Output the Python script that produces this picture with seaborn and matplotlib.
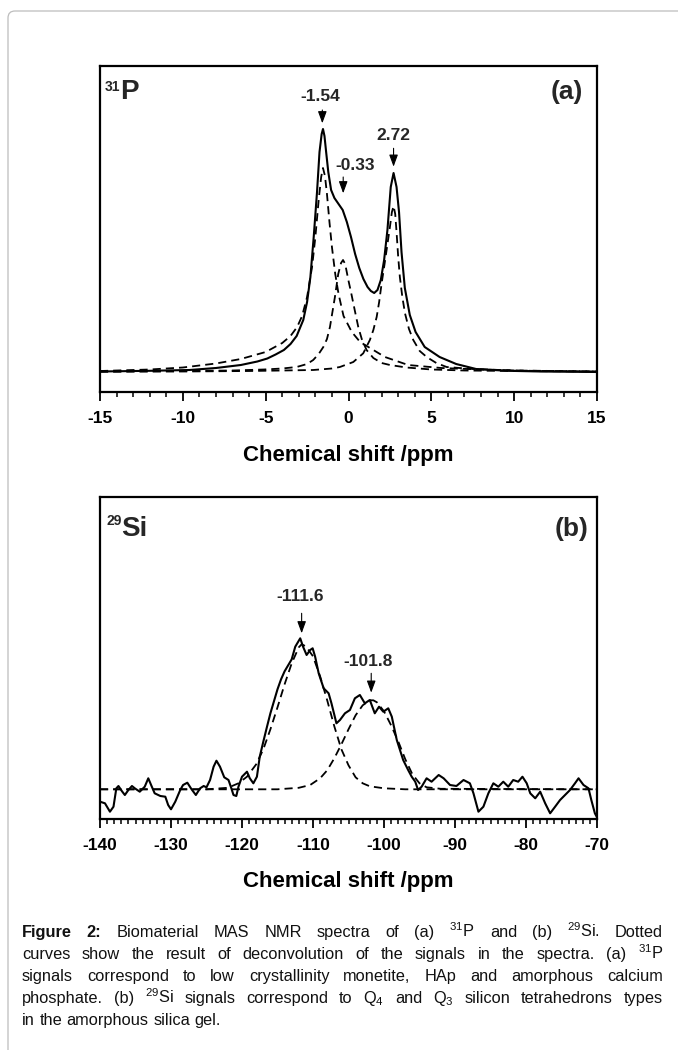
import matplotlib
matplotlib.use("Agg")
import matplotlib.pyplot as plt
import seaborn as sns
import pandas as pd
from matplotlib import font_manager
from matplotlib.patches import FancyBboxPatch
from matplotlib.transforms import IdentityTransform
from matplotlib.ticker import MultipleLocator

# ---------------- data ----------------
# (a) 31P spectrum: (ppm, intensity in arbitrary units)
p_total = [(-15, 0.5), (-12, 1.2), (-9.6, 2), (-8, 4), (-6.5, 7), (-5.5, 10.5), (-4.9, 13.5),
           (-4.4, 17.5), (-3.9, 22), (-3.5, 28), (-3.13, 36), (-2.73, 52), (-2.5, 70), (-2.3, 95),
           (-2.1, 135), (-1.9, 180), (-1.75, 220), (-1.62, 238), (-1.54, 243), (-1.45, 236),
           (-1.35, 220), (-1.22, 200), (-1.05, 182), (-0.85, 174), (-0.6, 168), (-0.35, 162),
           (-0.1, 150), (0.15, 135), (0.4, 118), (0.65, 104), (0.9, 93), (1.15, 85), (1.35, 81),
           (1.55, 79), (1.75, 82), (1.95, 92), (2.15, 112), (2.35, 142), (2.55, 185), (2.72, 199),
           (2.9, 185), (3.05, 160), (3.2, 120), (3.4, 84), (3.7, 57), (4.05, 40), (4.6, 25),
           (5.5, 15), (6.5, 8), (7.7, 3), (9.6, 1.2), (11.6, 0.5), (15, 0)]
p_comp_154 = [(-15, 1), (-12, 2.5), (-10, 4.5), (-8, 8.5), (-6.5, 13), (-5, 20), (-4, 29), (-3.5, 36),
              (-3.1, 45), (-2.8, 56), (-2.5, 75), (-2.2, 105), (-2.0, 135), (-1.8, 172), (-1.65, 195),
              (-1.54, 204), (-1.42, 196), (-1.3, 178), (-1.15, 150), (-1.0, 125), (-0.8, 98),
              (-0.6, 78), (-0.3, 56), (0.2, 40), (0.7, 30), (1.2, 25), (2.2, 15), (3.6, 7), (5.6, 4),
              (8, 2.5), (11, 1.2), (15, 0.5)]
p_comp_033 = [(-15, 0.5), (-10, 1), (-7, 1.5), (-5.1, 2.5), (-4, 3.5), (-3.13, 5), (-2.5, 8), (-2.13, 12),
              (-1.8, 18), (-1.52, 25), (-1.3, 33), (-1.12, 45), (-0.95, 62), (-0.82, 75), (-0.62, 98),
              (-0.45, 109), (-0.33, 112), (-0.2, 108), (-0.01, 92), (0.15, 80), (0.29, 68.7), (0.45, 56),
              (0.59, 45), (0.8, 33), (1.09, 22), (1.5, 14), (2, 9), (2.5, 7), (3.5, 4.5), (5, 2.5),
              (7, 1.5), (10, 1), (15, 0.5)]
p_comp_272 = [(-15, 0.3), (-10, 0.5), (-6, 1), (-4, 1.5), (-2.13, 2), (-1, 3.5), (-0.52, 5), (0.29, 10),
              (0.89, 18.7), (1.29, 32), (1.5, 42), (1.7, 55), (1.85, 70), (2.0, 88.7), (2.15, 105),
              (2.3, 122), (2.5, 145), (2.62, 160), (2.72, 166), (2.82, 158), (2.9, 140), (3.0, 115),
              (3.1, 95), (3.25, 75), (3.41, 58.7), (3.65, 43), (3.91, 32), (4.3, 21), (4.72, 15),
              (5.3, 9), (5.92, 5), (7.5, 3), (10, 1.5), (15, 0.5)]
p_peak_labels = ["-1.54", "-0.33", "2.72"]
p_peak_pos = [-1.58, -0.32, 2.72]

# (b) 29Si spectrum
si_total = [(-140.0, -12.4), (-139.3, -14), (-138.6, -22.4), (-138.1, -17.4), (-137.7, 1), (-137.4, 3.3),
            (-136.9, -2), (-136.5, -5.7), (-136.0, -0.7), (-135.5, 3.3), (-135.1, 1), (-134.4, -2.4),
            (-133.7, 2.6), (-133.2, 11), (-132.7, 2.6), (-132.3, -4), (-131.5, -6.7), (-130.8, -7.4),
            (-130.4, -15.7), (-130.0, -20), (-129.4, -12.4), (-128.7, -0.7), (-128.3, 4.3),
            (-127.7, 6.6), (-127.1, 0), (-126.5, -5.7), (-125.9, 1), (-125.4, 3.3), (-125.0, 2),
            (-124.5, 9.3), (-124.0, 22.6), (-123.6, 28.6), (-123.1, 22.6), (-122.5, 12), (-121.9, 9.3),
            (-121.5, 1), (-121.2, -5.7), (-120.8, -6.7), (-120.5, 2.6), (-120.0, 12.6), (-119.3, 17.6),
            (-118.9, 11), (-118.4, 6), (-117.9, 12.6), (-117.5, 32.6), (-117.0, 47.6), (-116.5, 62),
            (-116.0, 76), (-115.5, 88), (-115.0, 100), (-114.5, 110), (-114.0, 118), (-113.5, 124),
            (-113.0, 130), (-112.5, 142.6), (-111.8, 151), (-111.4, 142.6), (-110.9, 134.3),
            (-110.4, 139.3), (-110.05, 141), (-109.7, 132.6), (-109.2, 116), (-108.5, 101),
            (-107.8, 96), (-107.4, 86), (-106.7, 66), (-106.2, 69.3), (-105.5, 76), (-104.8, 79.3),
            (-104.1, 91), (-103.4, 94.3), (-102.7, 86), (-102.0, 89.3), (-101.3, 76), (-100.7, 82.6),
            (-100.1, 77.6), (-99.4, 81), (-98.9, 72.6), (-98.2, 49.3), (-97.3, 29.3), (-96.6, 19.3),
            (-96.1, 12.6), (-95.6, 7.6), (-95.2, -0.7), (-94.7, 2.6), (-94.0, 11), (-93.3, 7.6),
            (-92.3, 14.3), (-91.6, 11), (-90.7, 4.3), (-89.8, 3.3), (-88.8, 9.3), (-87.9, 6),
            (-87.4, -4), (-86.7, -22.4), (-86.0, -17.4), (-85.3, -4), (-84.6, 6), (-83.9, 2.6),
            (-83.2, 7.6), (-82.5, 2.6), (-81.8, 9.3), (-81.1, 7.6), (-80.5, 12.6), (-79.9, 6),
            (-79.4, -4), (-78.7, -9), (-78.0, -2.4), (-77.3, -14), (-76.6, -24), (-75.9, -17.4),
            (-75.2, -10.7), (-74.5, -5.7), (-73.8, -0.7), (-73.1, 6), (-72.6, 11), (-71.9, 4.3),
            (-71.2, 1), (-70.8, -10.7), (-70.3, -24), (-70.0, -28)]
si_comp_1116 = [(-140, 0), (-125, 0), (-122, 1.5), (-120.5, 6), (-119.3, 12.6), (-118, 25), (-117, 40),
                (-116, 60), (-115, 82), (-114, 105), (-113, 126), (-112, 142), (-111.6, 145), (-111, 143),
                (-110, 133), (-109, 113), (-108, 89), (-107, 63), (-106, 40), (-105, 24), (-104, 12),
                (-103, 6), (-102, 3), (-100, 1), (-97, 0), (-70, 0)]
si_comp_1018 = [(-140, 0), (-115, 0), (-112, 1.5), (-110.4, 4.3), (-109, 11), (-108, 19), (-107, 31),
                (-106, 45), (-105, 60), (-104, 74), (-103, 84), (-102, 89), (-101.5, 89), (-101, 87),
                (-100, 78), (-99, 64), (-98, 48), (-97, 30), (-96, 15), (-95, 6), (-94, 2), (-92, 0.5),
                (-70, 0)]
si_peak_labels = ["-111.6", "-101.8"]
si_peak_pos = [-111.6, -101.8]

caption_lines = [
    "Figure 2: Biomaterial MAS NMR spectra of (a) $^{31}$P and (b) $^{29}$Si. Dotted",
    "curves show the result of deconvolution of the signals in the spectra. (a) $^{31}$P",
    "signals correspond to low crystallinity monetite, HAp and amorphous calcium",
    "phosphate. (b) $^{29}$Si signals correspond to Q$_4$ and Q$_3$ silicon tetrahedrons types",
    "in the amorphous silica gel.",
]
bold_words = {"Figure", "2:"}

# ---------------- style ----------------
def has_font(name):
    try:
        font_manager.findfont(font_manager.FontProperties(family=name), fallback_to_default=False)
        return True
    except Exception:
        return False

sns.set_theme(style="ticks")
MAIN = "Liberation Sans"
NARROW = has_font("Liberation Sans Narrow")
CAP = "Liberation Sans Narrow" if NARROW else "Liberation Sans"
plt.rcParams["font.family"] = [MAIN, "DejaVu Sans"]
plt.rcParams["font.weight"] = "bold"
plt.rcParams["axes.unicode_minus"] = False
plt.rcParams["mathtext.fontset"] = "custom"
plt.rcParams["mathtext.rm"] = CAP
plt.rcParams["mathtext.it"] = CAP
plt.rcParams["mathtext.bf"] = CAP + ":bold"
plt.rcParams["mathtext.default"] = "regular"

W, H = 678, 1050
fig = plt.figure(figsize=(W / 100, H / 100), dpi=100)
fig.patch.set_facecolor("white")

# outer rounded frame (page decoration)
frame = FancyBboxPatch((8, -60), 800, H - 11 + 60, boxstyle="round,pad=0,rounding_size=7",
                       transform=IdentityTransform(), fill=False, ec="#bdbdbd", lw=0.9)
fig.add_artist(frame)

axA = fig.add_axes([100 / W, 1 - 392 / H, 497 / W, 326 / H])
axB = fig.add_axes([100 / W, 1 - 819 / H, 497 / W, 322 / H])

DASH = (0, (4.5, 2.8))


def draw(ax, pts, dashed):
    df = pd.DataFrame(pts, columns=["ppm", "intensity"])
    sns.lineplot(data=df, x="ppm", y="intensity", ax=ax, color="black",
                 lw=1.3 if dashed else 1.5, linestyle=DASH if dashed else "-",
                 sort=False, estimator=None)


for comp in (p_comp_154, p_comp_033, p_comp_272):
    draw(axA, comp, True)
draw(axA, p_total, False)

for comp in (si_comp_1116, si_comp_1018):
    draw(axB, comp, True)
draw(axB, si_total, False)

axA.set_xlim(-15, 15)
axA.set_ylim(-20, 306)
axB.set_xlim(-140, -70)
axB.set_ylim(-29.7, 292.3)

for ax, major in ((axA, 5), (axB, 10)):
    ax.xaxis.set_major_locator(MultipleLocator(major))
    ax.xaxis.set_minor_locator(MultipleLocator(1))
    ax.set_yticks([])
    ax.set_ylabel("")
    ax.set_xlabel("Chemical shift /ppm", fontsize=16, fontweight="bold", labelpad=13.5, color="black")
    ax.tick_params(axis="x", which="major", direction="out", length=6.5, width=1.3,
                   labelsize=12.5, pad=7, colors="black")
    ax.tick_params(axis="x", which="minor", direction="out", length=3.6, width=1.1, colors="black")
    for s in ax.spines.values():
        s.set_visible(True)
        s.set_linewidth(1.6)
        s.set_color("black")
    ax.set_facecolor("white")
    for lbl in ax.get_xticklabels():
        lbl.set_fontweight("bold")

# panel labels
axA.text(0.041, 0.923, "31", transform=axA.transAxes, fontsize=10, fontweight="bold", ha="right", va="baseline")
axA.text(0.040, 0.899, "P", transform=axA.transAxes, fontsize=20, fontweight="bold", ha="left", va="baseline")
axA.text(0.972, 0.899, "(a)", transform=axA.transAxes, fontsize=19, fontweight="bold", ha="right", va="baseline")
axB.text(0.0445, 0.913, "29", transform=axB.transAxes, fontsize=10, fontweight="bold", ha="right", va="baseline")
axB.text(0.043, 0.880, "Si", transform=axB.transAxes, fontsize=20, fontweight="bold", ha="left", va="baseline")
axB.text(0.9826, 0.880, "(b)", transform=axB.transAxes, fontsize=19, fontweight="bold", ha="right", va="baseline")

# peak annotations
arrow_kw = dict(arrowstyle="-|>,head_length=0.6,head_width=0.22", color="black", lw=0.8,
                shrinkA=0, shrinkB=0)
a_text_xy = [(-1.72, 275.3), (0.39, 207), (2.70, 237)]
a_arrow_y = [(262, 248.7), (195, 178.7), (223.7, 205.3)]
for lbl, x, (tx, ty), (y0, y1) in zip(p_peak_labels, p_peak_pos, a_text_xy, a_arrow_y):
    axA.text(tx, ty, lbl, fontsize=12.5, fontweight="bold", ha="center", va="center")
    axA.annotate("", xy=(x, y1), xytext=(x, y0), arrowprops=arrow_kw)

b_text_xy = [(-111.8, 192.6), (-102.2, 127.6)]
b_arrow_y = [(176, 156), (116, 96.6)]
for lbl, x, (tx, ty), (y0, y1) in zip(si_peak_labels, si_peak_pos, b_text_xy, b_arrow_y):
    axB.text(tx, ty, lbl, fontsize=12.5, fontweight="bold", ha="center", va="center")
    axB.annotate("", xy=(x, y1), xytext=(x, y0), arrowprops=arrow_kw)

# ---------------- caption (justified) ----------------
fig.canvas.draw()
renderer = fig.canvas.get_renderer()
L_px, R_px = 22, 663
line_y0, line_dy = 937, 22


def make_words(size):
    out = []
    for i, line in enumerate(caption_lines):
        base = H - (line_y0 + i * line_dy)
        ts = []
        for w in line.split(" "):
            t = fig.text(0, base / H, w, fontsize=size, family=[CAP, "DejaVu Sans"],
                         fontweight="bold" if w in bold_words else "normal",
                         ha="left", va="baseline", color="#111111")
            ts.append(t)
        out.append(ts)
    return out


size = 13.5 if NARROW else 11.75
while True:
    lines = make_words(size)
    probe = fig.text(0, 0, "a a", fontsize=size, family=[CAP])
    probe2 = fig.text(0, 0, "aa", fontsize=size, family=[CAP])
    space = probe.get_window_extent(renderer).width - probe2.get_window_extent(renderer).width
    probe.remove(); probe2.remove()
    widths = [[t.get_window_extent(renderer).width for t in ts] for ts in lines]
    need = max(sum(w) + space * 0.8 * (len(w) - 1) for w in widths)
    if need <= (R_px - L_px) or size < 8:
        break
    for ts in lines:
        for t in ts:
            t.remove()
    size -= 0.25

for i, (ts, ws) in enumerate(zip(lines, widths)):
    if i < len(lines) - 1:
        gap = (R_px - L_px - sum(ws)) / (len(ws) - 1)
    else:
        gap = space
    x = L_px
    for t, w in zip(ts, ws):
        t.set_x(x / W)
        x += w + gap

fig.savefig("out.png", dpi=100, facecolor="white")
